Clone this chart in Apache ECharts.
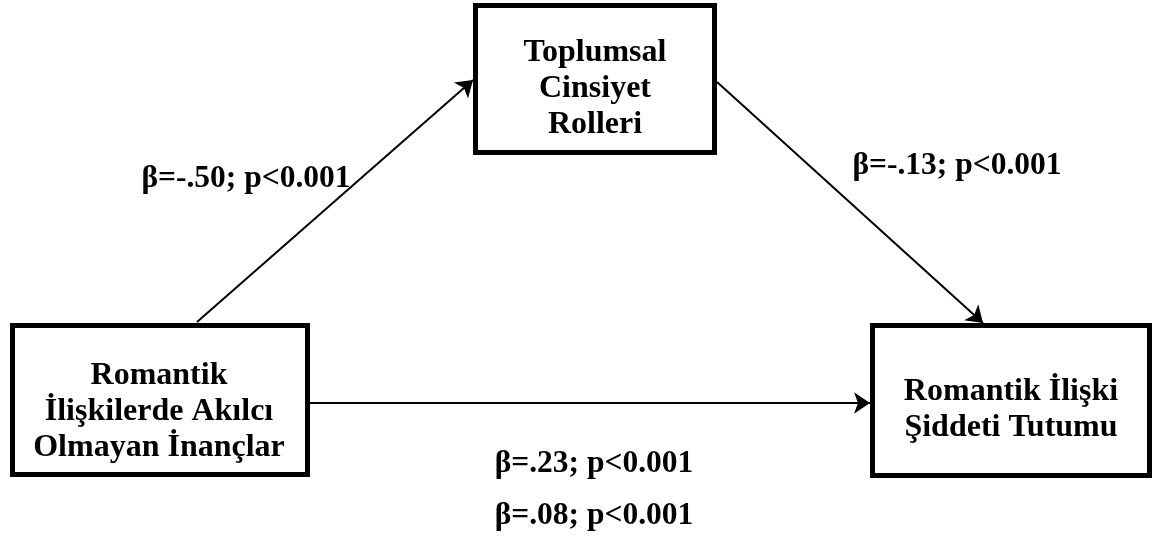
<!DOCTYPE html>
<html>
<head>
<meta charset="utf-8">
<script src="https://cdn.jsdelivr.net/npm/echarts@6/dist/echarts.min.js"></script>
<style>
  html, body { margin: 0; padding: 0; background: #fff; }
  #chart { width: 1164px; height: 538px; }
</style>
</head>
<body>
<div id="chart"></div>
<script>
// variables of the mediation model
const boxNames = [
  'Toplumsal\nCinsiyet\nRolleri',
  'Romantik\nİlişkilerde Akılcı\nOlmayan İnançlar',
  'Romantik İlişki\nŞiddeti Tutumu',
]
// path coefficients: a, b, c (total), c' (direct)
const pathLabels = [
  'β=-.50; p<0.001',
  'β=-.13; p<0.001',
  'β=.23; p<0.001',
  'β=.08; p<0.001',
]

// layout in pixel space: [x0, y0, x1, y1] outer edge of each box
const boxRects = [
  [473, 3, 717, 155],
  [10, 323, 310, 477],
  [870, 323, 1152, 478],
]
// text centre inside each box
const boxTextPos = [[595, 89], [159, 412], [1011, 410]]
// arrows: from -> to
const arrows = [
  [[197, 322], [473, 80]],
  [[717, 82], [983, 323]],
  [[310, 403], [870, 403]],
]
const labelPos = [[246, 179], [957, 166], [594, 464], [594, 516]]

const FONT = "'Liberation Serif', 'Times New Roman', serif"
const BORDER = 5

const chart = echarts.init(document.getElementById('chart'))

chart.setOption({
  backgroundColor: '#fff',
  animation: false,
  grid: { left: 0, right: 0, top: 0, bottom: 0 },
  xAxis: { type: 'value', min: 0, max: 1164, show: false },
  yAxis: { type: 'value', min: 0, max: 538, inverse: true, show: false },
  series: [
    {
      type: 'custom',
      coordinateSystem: 'cartesian2d',
      data: boxRects.map((r, i) => [r[0], r[1], r[2], r[3], boxTextPos[i][0], boxTextPos[i][1]]),
      renderItem: (params, api) => {
        const p0 = api.coord([api.value(0), api.value(1)])
        const p1 = api.coord([api.value(2), api.value(3)])
        const tp = api.coord([api.value(4), api.value(5)])
        const h = BORDER / 2
        return {
          type: 'group',
          children: [
            {
              type: 'rect',
              shape: { x: p0[0] + h, y: p0[1] + h, width: p1[0] - p0[0] - BORDER, height: p1[1] - p0[1] - BORDER },
              style: { fill: '#fff', stroke: '#000', lineWidth: BORDER },
            },
            {
              type: 'text',
              x: tp[0],
              y: tp[1],
              style: {
                text: boxNames[params.dataIndex],
                font: `bold 32px ${FONT}`,
                fill: '#000',
                align: 'center',
                verticalAlign: 'middle',
                lineHeight: 36,
              },
            },
          ],
        }
      },
      z: 2,
    },
    {
      type: 'lines',
      coordinateSystem: 'cartesian2d',
      symbol: ['none', 'arrow'],
      symbolSize: 16,
      lineStyle: { color: '#000', width: 2, opacity: 1 },
      data: arrows.map(a => ({ coords: a })),
      z: 1,
    },
    {
      type: 'custom',
      coordinateSystem: 'cartesian2d',
      data: labelPos.map(p => p),
      renderItem: (params, api) => {
        const p = api.coord([api.value(0), api.value(1)])
        return {
          type: 'text',
          x: p[0],
          y: p[1],
          style: {
            text: pathLabels[params.dataIndex],
            font: `bold 31.5px ${FONT}`,
            fill: '#000',
            align: 'center',
            verticalAlign: 'middle',
          },
        }
      },
      z: 3,
    },
  ],
})
</script>
</body>
</html>
